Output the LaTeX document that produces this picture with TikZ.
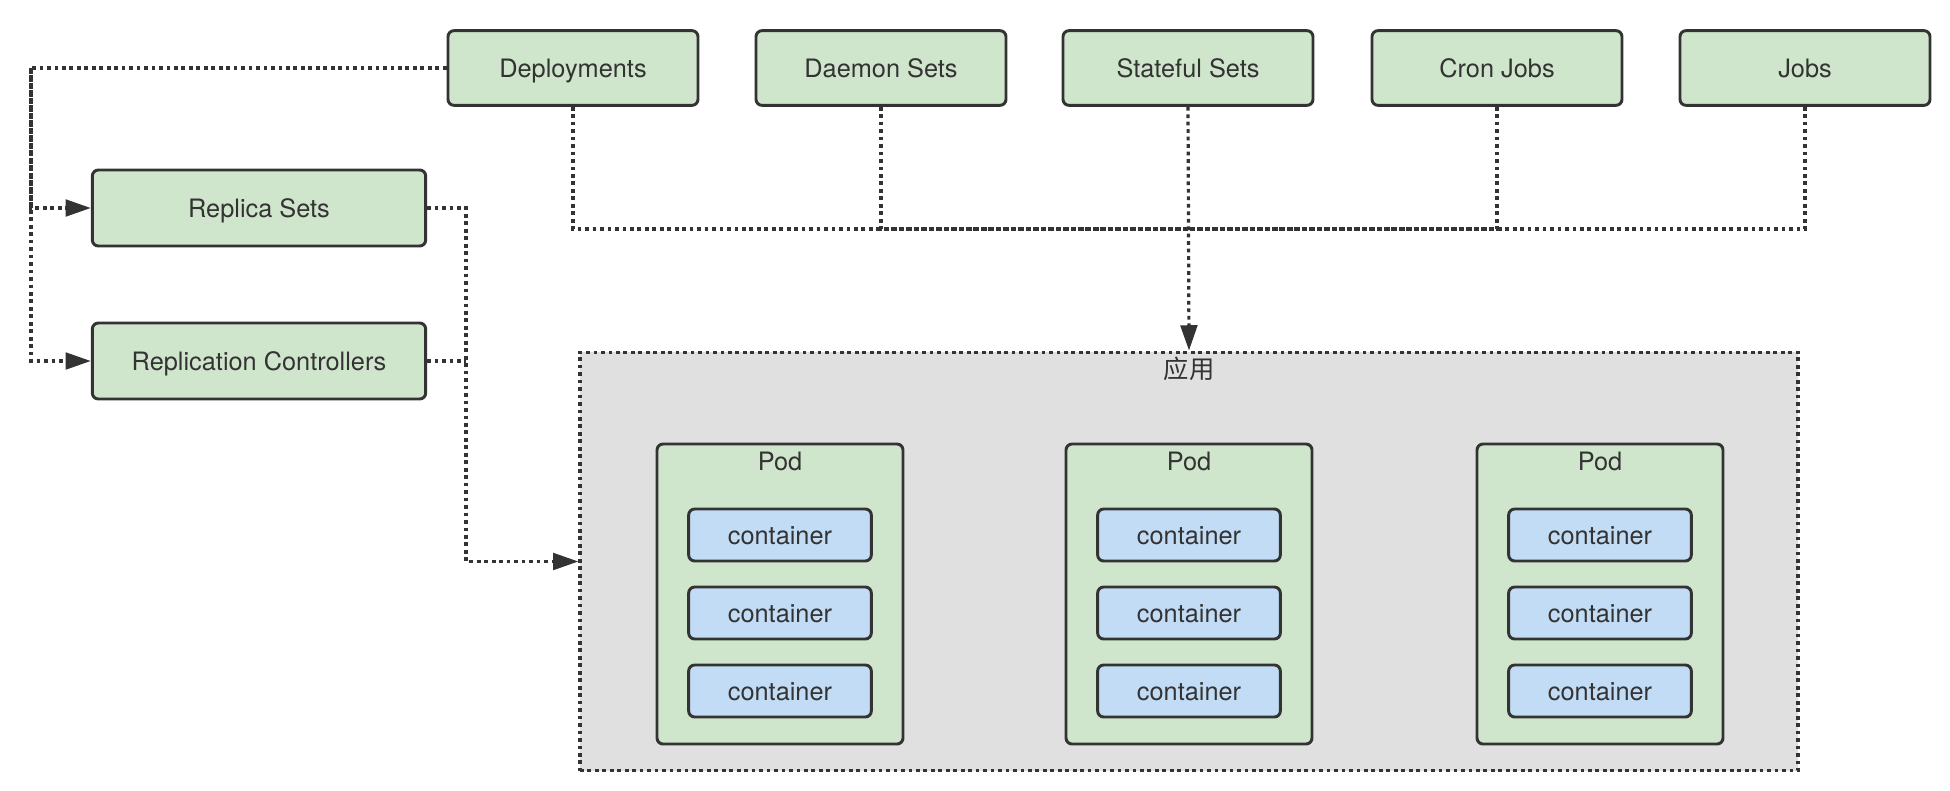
\documentclass[tikz,border=0pt]{standalone}
\usepackage{fontspec}
\setmainfont{TeX Gyre Heros}
\newfontfamily\cjk{Noto Sans CJK SC}
\usetikzlibrary{arrows.meta}

\definecolor{boxgreen}{HTML}{D0E6CC}
\definecolor{boxblue}{HTML}{C2DCF5}
\definecolor{appgray}{HTML}{E0E0E0}
\definecolor{linec}{HTML}{333333}

\tikzset{
    box/.style={draw=linec, line width=2.2pt, rounded corners=4.5pt, fill=boxgreen,
        text=linec, font=\fontsize{19}{23}\selectfont, text height=13.5pt, text depth=0pt},
    ctrl/.style={box, minimum width=187.5pt, minimum height=56pt},
    rbox/.style={box, minimum width=250pt, minimum height=57pt},
    pod/.style={box, minimum width=184.5pt, minimum height=225pt},
    cont/.style={box, fill=boxblue, minimum width=137pt, minimum height=39pt},
    appbox/.style={draw=linec, line width=2.4pt, fill=appgray, dash pattern=on 2.8pt off 2.8pt,
        minimum width=913.5pt, minimum height=314pt},
    link/.style={draw=linec, line width=2.4pt, dash pattern=on 2.8pt off 2.8pt},
    arr/.style={-{Triangle[length=19pt,width=12.5pt]}},
    lbl/.style={text=linec, font=\fontsize{19}{23}\selectfont}
}

\begin{document}
\begin{tikzpicture}[x=0.75pt,y=-0.75pt]
    \useasboundingbox (0,0) rectangle (1950,790);

    % controllers on top
    \node[ctrl] (deploy) at (573,68) {Deployments};
    \node[ctrl] (daemon) at (881,68) {Daemon Sets};
    \node[ctrl] (stateful) at (1188,68) {Stateful Sets};
    \node[ctrl] (cron) at (1497,68) {Cron Jobs};
    \node[ctrl] (jobs) at (1805,68) {Jobs};

    % replica controllers
    \node[rbox] (replica) at (259,208) {Replica Sets};
    \node[rbox] (rc) at (259,361) {Replication Controllers};

    % application with pods
    \node[appbox] (app) at (1189,561.5) {};
    \node[lbl, font=\cjk\fontsize{19}{23}\selectfont] (applbl) at (1189,369) {应用};
    \foreach \px [count=\i] in {780,1189,1600} {
        \node[pod] (pod\i) at (\px,594) {};
        \node[lbl] (podlbl\i) at (\px,461) {Pod};
        \foreach \cy [count=\j] in {535,613,691}
            \node[cont] (c\i\j) at (\px,\cy) {container};
    }

    % connectors
    \coordinate (bus) at (1188,229);
    \foreach \n in {deploy,daemon,cron,jobs}
        \draw[link] (\n.south) |- (bus);
    \draw[link,arr] (stateful.south) -- (app.north);

    \coordinate (lft) at (31,68);
    \draw[link,arr] (deploy.west) -- (lft) |- (replica.west);
    \draw[link,arr] (lft) |- (rc.west);

    \coordinate (rgt) at (466,208);
    \draw[link,arr] (replica.east) -- (rgt) |- (app.west);
    \draw[link] (rc.east) -- (rc.east -| rgt);
\end{tikzpicture}
\end{document}
